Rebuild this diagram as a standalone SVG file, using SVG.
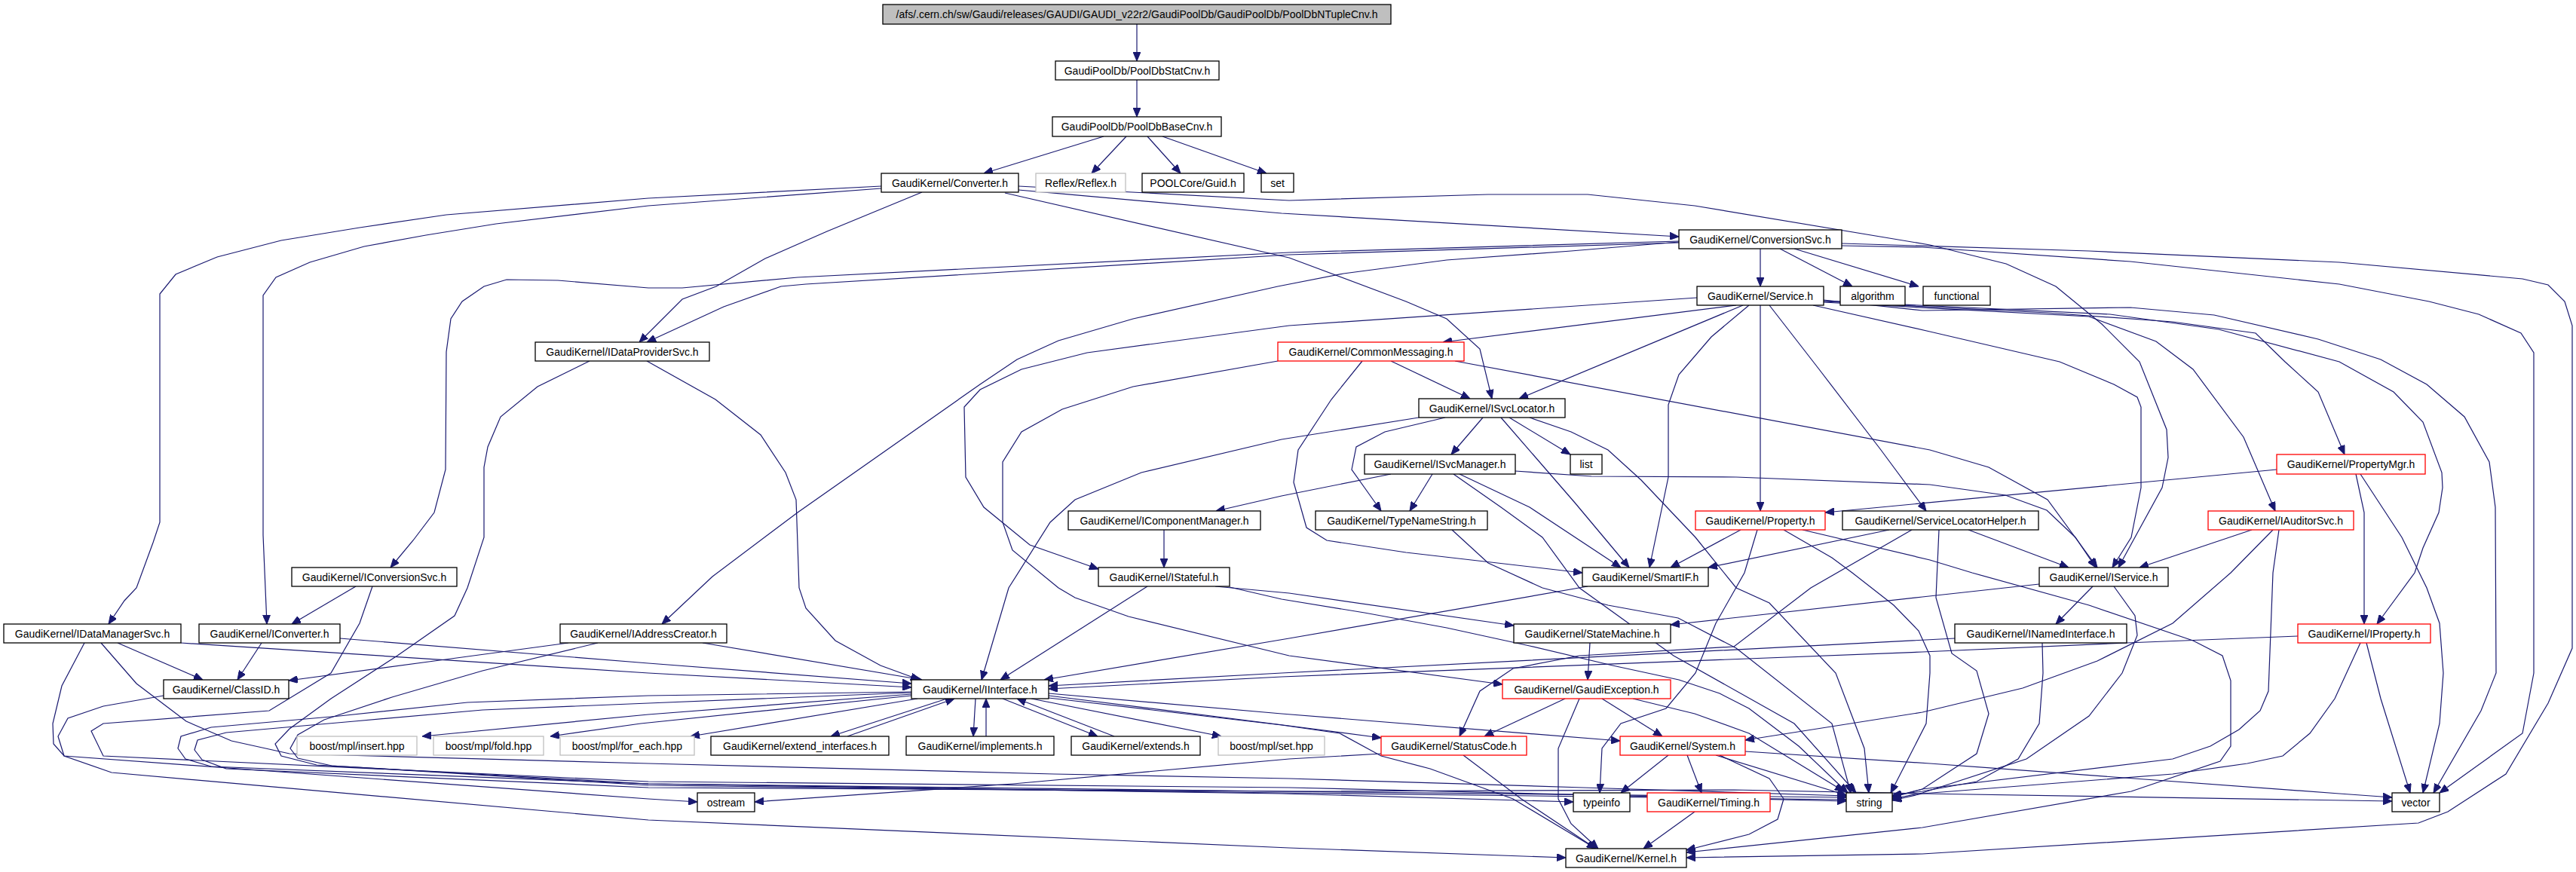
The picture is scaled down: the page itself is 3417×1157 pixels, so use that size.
<svg xmlns="http://www.w3.org/2000/svg" width="3417" height="1157" viewBox="0 0 3417 1157">
<style>
rect{fill:#fff;stroke:#000;stroke-width:1.3}
.r rect{stroke:#f00}
.g rect{stroke:#bfbfbf}
.top rect{fill:#bfbfbf}
text{font-family:"Liberation Sans",Arial,sans-serif;font-size:14px;text-anchor:middle;fill:#000}
#edges path{fill:none;stroke:#191970;stroke-width:1.2;marker-end:url(#a)}
</style>
<defs>
<marker id="a" markerWidth="12" markerHeight="10" refX="12" refY="5" orient="auto" markerUnits="userSpaceOnUse"><path d="M0,0L12,5L0,10z" fill="#191970" stroke="#191970" stroke-width="1"/></marker>
</defs>
<rect x="0" y="0" width="3417" height="1157" style="fill:#fff;stroke:none"/>
<g id="edges">
<path d="M1508,32L1508,81"/>
<path d="M1508,106L1508,155"/>
<path d="M1464,181L1305,230"/>
<path d="M1494,181L1448,230"/>
<path d="M1522,181L1566,230"/>
<path d="M1542,181L1680,230"/>
<path d="M1351,252L1700,283L2227,314"/>
<path d="M1333,256L1710,342L1865,400L1919,423L1963,463L1979,529"/>
<path d="M1351,247L1710,266L1974,258L2106,258L2248,273L2560,325L2661,350L2727,380L2788,430L2838,480L2874,570L2876,607L2868,647L2810,753"/>
<path d="M1169,247L860,263L592,285L477,302L373,319L288,341L233,364L212,390L212,693L203,720L181,780L165,797L144,828"/>
<path d="M1169,250L860,273L658,297L565,312L483,327L411,348L366,368L349,392L349,710L354,828"/>
<path d="M1223,255L1097,307L1015,343L950,380L905,397L848,454"/>
<path d="M2227,320L1710,335L1058,368L905,382L860,382L740,372L672,371L642,380L613,400L598,423L592,467L591,623L576,680L548,717L518,753"/>
<path d="M2227,322L1710,338L1069,377L1036,380L960,407L858,454"/>
<path d="M2227,321L2084,333L1919,345L1782,363L1695,380L1503,423L1404,452L1349,477L1300,510L1058,680L945,765L878,828"/>
<path d="M2335,330L2335,380"/>
<path d="M2361,330L2457,380"/>
<path d="M2380,330L2545,380"/>
<path d="M2443,326L2550,328L2826,347L3103,377L3222,400L3288,417L3344,442L3361,468L3361,893L3346,973L3236,1052"/>
<path d="M2443,323L2771,333L3103,348L3346,370L3380,378L3402,400L3412,432L3412,860L3380,933L3324,1027L3247,1077L3208,1092L2550,1133L2237,1138"/>
<path d="M2303,405L1914,454"/>
<path d="M2312,405L2015,529"/>
<path d="M2320,405L2270,447L2227,497L2213,537L2213,633L2188,753"/>
<path d="M2335,405L2335,678"/>
<path d="M2347,405L2413,490L2495,597L2555,678"/>
<path d="M2251,395L1710,432L1442,468L1355,490L1300,517L1279,540L1281,633L1305,673L1366,723L1457,755"/>
<path d="M2419,398L2550,412L2826,408L2937,418L3075,450L3158,477L3219,510L3269,553L3302,613L3310,673L3311,893L3291,943L3228,1052"/>
<path d="M2419,400L2716,415L2882,427L2992,442L3031,480L3075,520L3110,603"/>
<path d="M2419,401L2771,420L2860,453L2909,490L2976,580L3018,678"/>
<path d="M2419,399L2799,417L2943,437L3103,480L3175,520L3214,560L3239,627L3240,647L3235,680L3214,727L3203,760L3153,828"/>
<path d="M2405,405L2560,440L2732,480L2804,510L2835,527L2840,540L2840,647L2827,713L2802,753"/>
<path d="M1845,479L1950,529"/>
<path d="M1807,479L1766,530L1722,597L1716,640L1733,700L1760,717L1865,733L2099,760"/>
<path d="M1930,479L2560,597L2638,620L2716,663L2782,753"/>
<path d="M1695,479L1503,513L1409,543L1355,573L1330,613L1330,693L1343,730L1404,780L1426,793L1497,818L1710,870L1993,908"/>
<path d="M1882,554L1700,583L1514,627L1426,663L1393,693L1338,780L1302,902"/>
<path d="M1917,554L1837,573L1799,593L1793,623L1810,647L1832,678"/>
<path d="M1967,554L1925,603"/>
<path d="M1991,554L2089,667L2161,753"/>
<path d="M2002,554L2083,603"/>
<path d="M2029,554L2084,573L2133,597L2177,637L2249,713L2303,780L2347,800L2435,893L2473,993L2479,1052"/>
<path d="M1845,629L1700,658L1613,678"/>
<path d="M1900,629L1870,678"/>
<path d="M1936,629L2029,673L2150,753"/>
<path d="M1928,629L1991,673L2046,713L2095,780L2220,870L2380,960L2462,1052"/>
<path d="M2010,625L2111,632L2303,633L2560,643L2660,657L2715,677L2753,713L2780,753"/>
<path d="M1926,703L1974,747L2046,780L2133,803L2226,820L2303,860L2430,960L2455,1052"/>
<path d="M2309,703L2216,753"/>
<path d="M2331,703L2314,760L2276,827L2249,893L2210,940L2150,960L2125,993L2122,1052"/>
<path d="M2366,703L2430,740L2457,760L2512,803L2545,837L2560,870L2560,893L2555,960L2508,1052"/>
<path d="M2391,703L2560,743L2616,760L2771,803L2909,850L2948,870L2959,903L2959,990L2945,1010L2827,1050L2550,1098L2237,1131"/>
<path d="M2506,703L2266,753"/>
<path d="M2611,703L2744,753"/>
<path d="M2572,703L2568,793L2589,867L2622,890L2638,947L2622,1000L2550,1047L2510,1057"/>
<path d="M2536,703L2402,780L2300,858L2095,870L2007,887L1963,917L1936,977"/>
<path d="M3125,629L3136,680L3136,828"/>
<path d="M3131,629L3186,713L3219,780L3236,827L3241,893L3236,960L3214,1052"/>
<path d="M3020,623L2421,680"/>
<path d="M2987,703L2838,753"/>
<path d="M3015,703L2959,760L2882,827L2782,877L2683,913L2550,945L2315,982"/>
<path d="M3023,703L3015,760L3009,917L2998,943L2970,968L2932,990L2882,1007L2550,1047L2510,1058"/>
<path d="M3048,844L2821,853L2550,865L1700,898L1391,914"/>
<path d="M3131,853L3097,927L3064,973L3028,1003L2981,1013L2882,1027L2550,1053L2510,1062"/>
<path d="M3139,853L3158,927L3197,1052"/>
<path d="M2593,847L1700,893L1391,910"/>
<path d="M2709,853L2710,893L2705,960L2677,1007L2622,1037L2550,1050L2510,1055"/>
<path d="M2776,778L2727,828"/>
<path d="M2804,778L2832,817L2835,843L2815,893L2771,950L2688,1007L2550,1052L2510,1060"/>
<path d="M2705,775L2550,792L2216,829"/>
<path d="M2106,778L1710,847L1385,902"/>
<path d="M1522,778L1327,902"/>
<path d="M1612,778L1710,787L2008,830"/>
<path d="M1631,779L1700,795L1810,813L1919,833L2029,857L2139,883L2227,902L2281,920L2320,940L2386,990L2451,1052"/>
<path d="M1544,703L1544,753"/>
<path d="M472,778L387,828"/>
<path d="M347,853L315,902"/>
<path d="M451,847L860,880L1209,907"/>
<path d="M156,853L269,902"/>
<path d="M240,853L860,893L1209,912"/>
<path d="M754,853L576,877L383,903"/>
<path d="M932,853L1223,902"/>
<path d="M858,479L949,530L1009,577L1042,627L1056,663L1060,780L1069,807L1108,850L1168,883L1220,902"/>
<path d="M782,479L713,513L664,553L647,593L642,620L642,713L620,780L603,817L527,870L439,927L384,967L365,987L373,1003L420,1015L860,1040L1700,1050L2449,1058"/>
<path d="M793,853L640,890L520,925L430,955L395,975L385,993L395,1006L440,1016L860,1042L1700,1052L2449,1061"/>
<path d="M494,778L477,827L439,893L357,943L137,960L121,970L137,1003L860,1037L1710,1045L2449,1063"/>
<path d="M217,923L137,937L90,953L77,977L85,1003L148,1025L860,1088L1710,1125L2077,1138"/>
<path d="M112,853L82,910L70,960L71,987L85,1003L860,1060L925,1064"/>
<path d="M134,853L181,907L247,957L307,983L384,1000L860,1013L1398,1027L1710,1033L2100,1045L2449,1056"/>
<path d="M1209,918L860,923L620,932L450,950L280,965L240,977L236,993L246,1007L280,1017L860,1040L1700,1053L2087,1064"/>
<path d="M1209,919L860,933L640,942L470,957L300,972L262,982L258,995L268,1008L300,1020L860,1045L1710,1050L2300,1048L2550,1053L3173,1063"/>
<path d="M1209,921L860,948L560,977"/>
<path d="M1209,923L850,960L730,977"/>
<path d="M1217,927L916,977"/>
<path d="M1256,927L1102,977"/>
<path d="M1124,977L1266,927"/>
<path d="M1294,927L1291,977"/>
<path d="M1308,977L1308,927"/>
<path d="M1330,927L1456,977"/>
<path d="M1478,977L1349,927"/>
<path d="M1368,927L1620,977"/>
<path d="M1391,923L1710,963L1832,979"/>
<path d="M1391,920L1700,947L2149,983"/>
<path d="M1391,926L1700,962L1777,973L1832,1003L1897,1020L2007,1060L2117,1126"/>
<path d="M1832,1000L1710,1007L1344,1040L1001,1064"/>
<path d="M1941,1002L2018,1060L2117,1126"/>
<path d="M2076,927L1969,977"/>
<path d="M2095,927L2067,993L2067,1060L2084,1093L2120,1126"/>
<path d="M2125,927L2205,977"/>
<path d="M2166,927L2248,947L2320,973L2446,1050"/>
<path d="M2109,853L2106,902"/>
<path d="M2213,1002L2150,1052"/>
<path d="M2238,1002L2257,1052"/>
<path d="M2276,1002L2449,1055"/>
<path d="M2281,1002L2347,1033L2366,1060L2358,1087L2320,1107L2237,1128"/>
<path d="M2315,997L2560,1013L3103,1053L3173,1058"/>
<path d="M2248,1077L2180,1126"/>
</g>
<g id="n_root" class="top"><rect x="1171" y="6" width="674" height="26"/><text x="1508" y="24">/afs/.cern.ch/sw/Gaudi/releases/GAUDI/GAUDI_v22r2/GaudiPoolDb/GaudiPoolDb/PoolDbNTupleCnv.h</text></g>
<g id="n_statcnv"><rect x="1400" y="81" width="217" height="25"/><text x="1508.5" y="98.5">GaudiPoolDb/PoolDbStatCnv.h</text></g>
<g id="n_basecnv"><rect x="1396" y="155" width="224" height="26"/><text x="1508" y="173">GaudiPoolDb/PoolDbBaseCnv.h</text></g>
<g id="n_converter"><rect x="1169" y="230" width="182" height="25"/><text x="1260" y="247.5">GaudiKernel/Converter.h</text></g>
<g id="n_reflex" class="g"><rect x="1374" y="230" width="119" height="25"/><text x="1433.5" y="247.5">Reflex/Reflex.h</text></g>
<g id="n_guid"><rect x="1515" y="230" width="135" height="25"/><text x="1582.5" y="247.5">POOLCore/Guid.h</text></g>
<g id="n_set"><rect x="1673" y="230" width="43" height="25"/><text x="1694.5" y="247.5">set</text></g>
<g id="n_conversionsvc"><rect x="2227" y="305" width="216" height="25"/><text x="2335" y="322.5">GaudiKernel/ConversionSvc.h</text></g>
<g id="n_service"><rect x="2251" y="380" width="168" height="25"/><text x="2335" y="397.5">GaudiKernel/Service.h</text></g>
<g id="n_algorithm"><rect x="2441" y="380" width="86" height="25"/><text x="2484" y="397.5">algorithm</text></g>
<g id="n_functional"><rect x="2551" y="380" width="89" height="25"/><text x="2595.5" y="397.5">functional</text></g>
<g id="n_idataprovidersvc"><rect x="710" y="454" width="231" height="25"/><text x="825.5" y="471.5">GaudiKernel/IDataProviderSvc.h</text></g>
<g id="n_commonmessaging" class="r"><rect x="1695" y="454" width="247" height="25"/><text x="1818.5" y="471.5">GaudiKernel/CommonMessaging.h</text></g>
<g id="n_isvclocator"><rect x="1882" y="529" width="194" height="25"/><text x="1979" y="546.5">GaudiKernel/ISvcLocator.h</text></g>
<g id="n_isvcmanager"><rect x="1810" y="603" width="200" height="26"/><text x="1910" y="621">GaudiKernel/ISvcManager.h</text></g>
<g id="n_list"><rect x="2083" y="603" width="42" height="26"/><text x="2104" y="621">list</text></g>
<g id="n_propertymgr" class="r"><rect x="3020" y="603" width="197" height="26"/><text x="3118.5" y="621">GaudiKernel/PropertyMgr.h</text></g>
<g id="n_icomponentmanager"><rect x="1417" y="678" width="255" height="25"/><text x="1544.5" y="695.5">GaudiKernel/IComponentManager.h</text></g>
<g id="n_typenamestring"><rect x="1745" y="678" width="228" height="25"/><text x="1859" y="695.5">GaudiKernel/TypeNameString.h</text></g>
<g id="n_property" class="r"><rect x="2249" y="678" width="172" height="25"/><text x="2335" y="695.5">GaudiKernel/Property.h</text></g>
<g id="n_servicelocatorhelper"><rect x="2444" y="678" width="260" height="25"/><text x="2574" y="695.5">GaudiKernel/ServiceLocatorHelper.h</text></g>
<g id="n_iauditorsvc" class="r"><rect x="2929" y="678" width="193" height="25"/><text x="3025.5" y="695.5">GaudiKernel/IAuditorSvc.h</text></g>
<g id="n_iconversionsvc"><rect x="387" y="753" width="219" height="25"/><text x="496.5" y="770.5">GaudiKernel/IConversionSvc.h</text></g>
<g id="n_istateful"><rect x="1457" y="753" width="174" height="25"/><text x="1544" y="770.5">GaudiKernel/IStateful.h</text></g>
<g id="n_smartif"><rect x="2099" y="753" width="167" height="25"/><text x="2182.5" y="770.5">GaudiKernel/SmartIF.h</text></g>
<g id="n_iservice"><rect x="2705" y="753" width="171" height="25"/><text x="2790.5" y="770.5">GaudiKernel/IService.h</text></g>
<g id="n_idatamanagersvc"><rect x="5" y="828" width="235" height="25"/><text x="122.5" y="845.5">GaudiKernel/IDataManagerSvc.h</text></g>
<g id="n_iconverter"><rect x="264" y="828" width="187" height="25"/><text x="357.5" y="845.5">GaudiKernel/IConverter.h</text></g>
<g id="n_iaddresscreator"><rect x="743" y="828" width="221" height="25"/><text x="853.5" y="845.5">GaudiKernel/IAddressCreator.h</text></g>
<g id="n_statemachine"><rect x="2008" y="828" width="208" height="25"/><text x="2112" y="845.5">GaudiKernel/StateMachine.h</text></g>
<g id="n_inamedinterface"><rect x="2593" y="828" width="228" height="25"/><text x="2707" y="845.5">GaudiKernel/INamedInterface.h</text></g>
<g id="n_iproperty" class="r"><rect x="3048" y="828" width="176" height="25"/><text x="3136" y="845.5">GaudiKernel/IProperty.h</text></g>
<g id="n_classid"><rect x="217" y="902" width="166" height="25"/><text x="300" y="919.5">GaudiKernel/ClassID.h</text></g>
<g id="n_iinterface"><rect x="1209" y="902" width="182" height="25"/><text x="1300" y="919.5">GaudiKernel/IInterface.h</text></g>
<g id="n_gaudiexception" class="r"><rect x="1993" y="902" width="223" height="25"/><text x="2104.5" y="919.5">GaudiKernel/GaudiException.h</text></g>
<g id="n_insert" class="g"><rect x="394" y="977" width="159" height="25"/><text x="473.5" y="994.5">boost/mpl/insert.hpp</text></g>
<g id="n_fold" class="g"><rect x="575" y="977" width="146" height="25"/><text x="648" y="994.5">boost/mpl/fold.hpp</text></g>
<g id="n_foreach" class="g"><rect x="743" y="977" width="178" height="25"/><text x="832" y="994.5">boost/mpl/for_each.hpp</text></g>
<g id="n_extend_interfaces"><rect x="943" y="977" width="236" height="25"/><text x="1061" y="994.5">GaudiKernel/extend_interfaces.h</text></g>
<g id="n_implements"><rect x="1202" y="977" width="196" height="25"/><text x="1300" y="994.5">GaudiKernel/implements.h</text></g>
<g id="n_extends"><rect x="1421" y="977" width="171" height="25"/><text x="1506.5" y="994.5">GaudiKernel/extends.h</text></g>
<g id="n_mplset" class="g"><rect x="1616" y="977" width="141" height="25"/><text x="1686.5" y="994.5">boost/mpl/set.hpp</text></g>
<g id="n_statuscode" class="r"><rect x="1832" y="977" width="193" height="25"/><text x="1928.5" y="994.5">GaudiKernel/StatusCode.h</text></g>
<g id="n_system" class="r"><rect x="2149" y="977" width="166" height="25"/><text x="2232" y="994.5">GaudiKernel/System.h</text></g>
<g id="n_ostream"><rect x="925" y="1052" width="76" height="25"/><text x="963" y="1069.5">ostream</text></g>
<g id="n_typeinfo"><rect x="2087" y="1052" width="75" height="25"/><text x="2124.5" y="1069.5">typeinfo</text></g>
<g id="n_timing" class="r"><rect x="2185" y="1052" width="163" height="25"/><text x="2266.5" y="1069.5">GaudiKernel/Timing.h</text></g>
<g id="n_string"><rect x="2449" y="1052" width="61" height="25"/><text x="2479.5" y="1069.5">string</text></g>
<g id="n_vector"><rect x="3173" y="1052" width="63" height="25"/><text x="3204.5" y="1069.5">vector</text></g>
<g id="n_kernel"><rect x="2077" y="1126" width="160" height="25"/><text x="2157" y="1143.5">GaudiKernel/Kernel.h</text></g>
</svg>
